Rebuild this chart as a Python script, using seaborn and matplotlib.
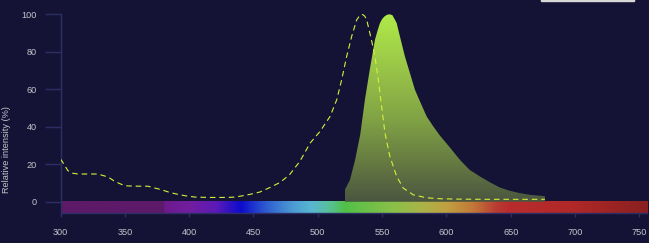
import numpy as np
import pandas as pd
import matplotlib
matplotlib.use("Agg")
import matplotlib.pyplot as plt
import seaborn as sns
from matplotlib.colors import LinearSegmentedColormap, to_rgb
from matplotlib.patches import Rectangle

# ---- data ----
ex_wl = [300, 303, 305.6, 308.7, 313.6, 329, 332, 337, 341, 345, 350, 360, 368, 373.4, 378.6,
         383.8, 389, 396.8, 404.5, 414.6, 430, 435.6, 443.4, 449.6, 455, 462.8, 470.6, 478,
         486, 494, 501.7, 509.5, 514.7, 518.5, 522.4, 526.3, 530.2, 532.5, 534.6, 536.5, 538,
         541.8, 544.4, 547, 549.6, 552.2, 556, 561.3, 566.4, 574.2, 584.6, 595, 610, 630, 650,
         676.5]
ex_val = [22.8, 19.7, 16.7, 15.3, 14.8, 14.8, 14.2, 13.2, 11.4, 10.0, 8.5, 8.3, 8.3, 7.3, 6.4,
          5.2, 4.3, 3.2, 2.5, 2.3, 2.3, 2.5, 3.4, 4.3, 5.2, 7.6, 10.3, 14.4,
          21.5, 31.3, 37.5, 45.5, 54.4, 65.0, 77.5, 88.2, 97.0, 99.3, 100.0, 99.0, 97.0,
          86.0, 77.5, 65.0, 50.8, 36.6, 24.2, 13.5, 7.3, 3.7, 2.1, 1.6, 1.4, 1.3, 1.3, 1.3]

em_wl = [521, 521.01, 525, 529, 533, 536.6, 540.5, 544.4, 546.5, 548.3, 550, 552, 554, 556,
         558, 560, 561.3, 563.8, 567.7, 571.6, 575.5, 579.4, 584.6, 589.7, 595, 602.6, 610.4,
         618, 626, 634, 641.5, 649, 657, 665, 673, 676.5]
em_val = [0, 6.4, 11.7, 22.4, 36.0, 54.4, 71.0, 86.4, 91.5, 95.3, 97.5, 99.0, 99.8, 100.0,
          99.5, 97.0, 95.3, 88.2, 77.5, 68.6, 59.7, 53.5, 45.5, 40.2, 35.2, 29.0, 22.4,
          17.0, 13.5, 10.3, 7.6, 5.9, 4.6, 3.7, 3.2, 3.0]

spec_wl = [300, 379, 380, 400, 420, 439.5, 460, 480, 495, 510, 520, 540, 560, 580, 600, 620,
           640, 650, 700, 756]
spec_col = ["#5c1a68", "#5e1a6a", "#6c1a8c", "#721ea0", "#5c1ab8", "#0c0ccc", "#3060d0",
            "#4c9cd4", "#58b8d0", "#58c090", "#50c048", "#70c048", "#8cbf48", "#aab448",
            "#c0a040", "#c27a38", "#b83832", "#b82c2c", "#b02828", "#8a2020"]

x_ticks = [300, 350, 400, 450, 500, 550, 600, 650, 700, 750]
y_ticks = [0, 20, 40, 60, 80, 100]

BG = "#141335"
TXT = "#c4c4cc"
AXC = "#2e2d66"

sns.set_theme(style="dark")
plt.rcParams["font.family"] = ["Liberation Sans", "DejaVu Sans"]

fig = plt.figure(figsize=(6.49, 2.43), dpi=100, facecolor=BG)
ax = fig.add_axes([60.5 / 649, 1 - 213 / 243, 586.7 / 649, (213 - 14.3) / 243])
ax.set_facecolor(BG)
ax.set_xlim(300, 756)
ax.set_ylim(-6, 100)

# spectrum bar
lo, hi = spec_wl[0], spec_wl[-1]
pos = [(w - lo) / (hi - lo) for w in spec_wl]
spec_cmap = LinearSegmentedColormap.from_list("spec", list(zip(pos, [to_rgb(c) for c in spec_col])))
grad = np.linspace(0, 1, 1000).reshape(1, -1)
ax.imshow(grad, cmap=spec_cmap, aspect="auto", extent=[lo, hi, -6, 0], zorder=1,
          interpolation="bilinear")

# emission gradient fill
poly = ax.fill_between(em_wl, 0, em_val, color="none", lw=0, zorder=2)
em_cmap = LinearSegmentedColormap.from_list(
    "em", [(0.0, "#4a5640"), (0.15, "#5e7041"), (0.45, "#82a445"), (0.75, "#9cca48"),
           (1.0, "#b0ea48")])
vgrad = np.linspace(0, 1, 256).reshape(-1, 1)
im = ax.imshow(vgrad, cmap=em_cmap, aspect="auto", origin="lower",
               extent=[min(em_wl), max(em_wl), 0, 100], zorder=2)
im.set_clip_path(poly.get_paths()[0], transform=ax.transData)

# excitation dashed line
df_ex = pd.DataFrame({"wl": ex_wl, "val": ex_val})
sns.lineplot(data=df_ex, x="wl", y="val", ax=ax, color="#d6f03a", lw=0.8, zorder=3)
ax.lines[-1].set_dashes((5, 3.5))

# axes styling
for s in ["top", "right"]:
    ax.spines[s].set_visible(False)
for s in ["left", "bottom"]:
    ax.spines[s].set_visible(True)
    ax.spines[s].set_color(AXC)
    ax.spines[s].set_linewidth(1)
ax.set_xticks(x_ticks)
ax.set_yticks(y_ticks)
ax.tick_params(axis="y", colors=AXC, length=11.5, width=1, labelcolor=TXT, labelsize=6.6, pad=5.5,
               left=True)
ax.tick_params(axis="x", colors=AXC, length=2.6, width=1, labelcolor=TXT, labelsize=6.6, pad=8,
               bottom=True)
ax.grid(False)
ax.set_xlabel("")
ax.set_ylabel("Relative intensity (%)", color=TXT, fontsize=6.6)
ax.yaxis.set_label_coords(-0.084, 0.317)

# clipped legend box edge at top
fig.patches.append(Rectangle((541 / 649, 1 - 1.5 / 243), 93 / 649, 2 / 243,
                             transform=fig.transFigure, color="#d8d8d8", zorder=5))

fig.savefig("out.png", dpi=100, facecolor=BG)
